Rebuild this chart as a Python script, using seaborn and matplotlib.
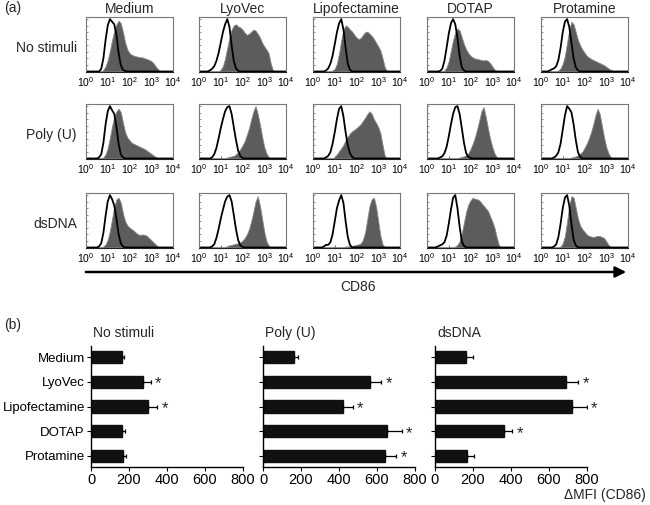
import numpy as np
import pandas as pd
import matplotlib
matplotlib.use("Agg")
import matplotlib.pyplot as plt
import seaborn as sns

sns.set_theme(style="ticks")
plt.rcParams['font.family'] = ['Liberation Sans', 'DejaVu Sans']
plt.rcParams['mathtext.fontset'] = 'custom'
plt.rcParams['mathtext.rm'] = 'Liberation Sans'
plt.rcParams['mathtext.it'] = 'Liberation Sans'
plt.rcParams['mathtext.default'] = 'regular'

# ---------------- data ----------------
carriers = ["Medium", "LyoVec", "Lipofectamine", "DOTAP", "Protamine"]
stimuli = ["No stimuli", "Poly (U)", "dsDNA"]
hist_ticks = [1, 10, 100, 1000, 10000]
bar_ticks = [0, 200, 400, 600, 800]

# CD86 histogram heights (% of max) at log10 intensity 0.0, 0.1, ..., 4.0
cd86_log = np.round(np.arange(0, 4.01, 0.1), 1)

ns_medium_stain = [0,0,0,0,0,0,0,0,3,10, 22,40,60,78,90,97,92,75,55,42, 35,32,30,29,28,27,27,25,24,22, 20,16,10,5,1,0,0,0,0,0,0]
ns_medium_iso   = [0,0,0,0,0,0,0,5,25,60, 88,100,95,90,70,35,12,3,1,0, 0,0,0,0,0,0,0,0,0,0, 0,0,0,0,0,0,0,0,0,0,0]
ns_lyovec_stain = [0,0,0,0,0,0,0,0,0,0, 3,10,25,45,65,80,88,90,86,84, 80,74,70,72,76,80,78,72,65,55, 48,42,35,15,2,0,0,0,0,0,0]
ns_lyovec_iso   = [0,0,0,0,0,2,5,10,20,35, 55,75,90,100,85,50,20,6,1,0, 0,0,0,0,0,0,0,0,0,0, 0,0,0,0,0,0,0,0,0,0,0]
ns_lipo_stain   = [0,0,0,0,0,0,0,0,0,2, 5,15,35,60,80,88,85,80,76,70, 65,62,64,70,75,76,72,68,62,55, 48,40,25,8,1,0,0,0,0,0,0]
ns_lipo_iso     = [0,0,0,0,0,0,2,6,15,30, 52,75,92,100,80,45,15,3,0,0, 0,0,0,0,0,0,0,0,0,0, 0,0,0,0,0,0,0,0,0,0,0]
ns_dotap_stain  = [0,0,0,0,0,0,0,0,2,8, 20,40,60,75,82,78,65,52,42,35, 30,27,25,24,23,22,21,22,20,16, 10,4,1,0,0,0,0,0,0,0,0]
ns_dotap_iso    = [0,0,0,0,0,0,1,5,20,45, 72,92,100,90,65,30,8,2,0,0, 0,0,0,0,0,0,0,0,0,0, 0,0,0,0,0,0,0,0,0,0,0]
ns_prot_stain   = [0,0,0,0,0,0,0,0,2,6, 15,30,55,80,95,90,75,60,50,42, 36,30,27,24,22,20,18,16,14,12, 9,6,3,1,0,0,0,0,0,0,0]
ns_prot_iso     = [0,0,0,0,2,4,6,10,22,45, 75,95,100,85,55,25,8,2,0,0, 0,0,0,0,0,0,0,0,0,0, 0,0,0,0,0,0,0,0,0,0,0]

pu_medium_stain = [0,0,0,0,0,0,0,0,2,8, 20,40,62,80,90,95,88,68,50,40, 35,30,28,26,24,22,20,18,15,12, 9,6,3,1,0,0,0,0,0,0,0]
pu_medium_iso   = [0,0,0,0,0,0,2,8,30,65, 90,100,92,85,60,28,8,2,0,0, 0,0,0,0,0,0,0,0,0,0, 0,0,0,0,0,0,0,0,0,0,0]
pu_lyovec_stain = [0,0,0,0,0,0,0,0,0,0, 0,0,0,2,3,4,5,8,12,18, 25,33,45,58,75,90,100,85,65,42, 22,10,3,0,0,0,0,0,0,0,0]
pu_lyovec_iso   = [0,0,0,0,0,0,2,8,20,38, 58,75,90,98,100,85,60,35,15,5, 1,0,0,0,0,0,0,0,0,0, 0,0,0,0,0,0,0,0,0,0,0]
pu_lipo_stain   = [0,0,0,0,0,0,0,0,0,0, 3,8,14,20,26,35,42,48,52,55, 58,62,66,72,78,85,90,85,75,68, 60,48,25,5,0,0,0,0,0,0,0]
pu_lipo_iso     = [0,0,0,0,0,0,2,5,12,28, 50,75,95,100,80,50,25,10,3,0, 0,0,0,0,0,0,0,0,0,0, 0,0,0,0,0,0,0,0,0,0,0]
pu_dotap_stain  = [0,0,0,0,0,0,0,0,0,0, 0,0,0,0,0,2,3,4,6,10, 18,28,40,55,72,90,98,80,58,38, 22,10,3,0,0,0,0,0,0,0,0]
pu_dotap_iso    = [0,0,0,0,0,0,2,4,10,22, 42,65,85,98,100,85,58,30,10,3, 1,0,0,0,0,0,0,0,0,0, 0,0,0,0,0,0,0,0,0,0,0]
pu_prot_stain   = [0,0,0,0,0,0,0,0,0,0, 0,0,0,0,2,3,4,6,9,13, 20,28,38,50,65,82,95,85,62,40, 22,10,3,0,0,0,0,0,0,0,0]
pu_prot_iso     = [0,0,0,0,0,0,2,5,12,28, 55,82,100,95,88,65,35,12,3,0, 0,0,0,0,0,0,0,0,0,0, 0,0,0,0,0,0,0,0,0,0,0]

ds_medium_stain = [0,0,0,0,0,0,0,0,2,6, 15,32,55,78,92,95,85,65,50,42, 38,35,32,28,25,24,25,24,22,18, 14,10,6,2,0,0,0,0,0,0,0]
ds_medium_iso   = [0,0,0,0,0,0,2,8,28,60, 88,100,92,80,55,25,8,2,0,0, 0,0,0,0,0,0,0,0,0,0, 0,0,0,0,0,0,0,0,0,0,0]
ds_lyovec_stain = [0,0,0,0,0,0,0,0,0,0, 0,0,0,3,4,5,6,7,8,10, 13,18,25,35,50,68,88,98,80,55, 30,12,4,0,0,0,0,0,0,0,0]
ds_lyovec_iso   = [0,0,0,0,0,0,2,6,18,35, 55,72,88,97,100,88,62,35,14,4, 1,0,0,0,0,0,0,0,0,0, 0,0,0,0,0,0,0,0,0,0,0]
ds_lipo_stain   = [0,0,0,0,0,0,0,0,0,0, 0,0,0,0,0,2,2,3,3,4, 5,6,8,15,30,55,80,92,95,78, 50,22,6,1,0,0,0,0,0,0,0]
ds_lipo_iso     = [0,0,0,0,0,2,5,5,10,25, 50,75,90,100,85,50,20,5,0,0, 0,0,0,0,0,0,0,0,0,0, 0,0,0,0,0,0,0,0,0,0,0]
ds_dotap_stain  = [0,0,0,0,0,0,0,0,0,0, 0,0,0,2,5,12,28,48,68,82, 90,95,93,92,90,85,80,75,70,60, 50,38,20,5,0,0,0,0,0,0,0]
ds_dotap_iso    = [0,0,0,0,0,2,4,6,10,22, 45,72,95,100,75,40,12,3,0,0, 0,0,0,0,0,0,0,0,0,0, 0,0,0,0,0,0,0,0,0,0,0]
ds_prot_stain   = [0,0,0,0,0,0,0,0,0,2, 8,22,50,80,98,95,75,55,42,35, 30,25,22,21,20,21,22,22,20,18, 12,5,1,0,0,0,0,0,0,0,0]
ds_prot_iso     = [0,0,0,0,0,0,2,6,20,45, 75,95,100,80,45,15,4,0,0,0, 0,0,0,0,0,0,0,0,0,0, 0,0,0,0,0,0,0,0,0,0,0]

# Delta MFI (CD86) bar values, upper error, significance
mfi_none  = [162, 275, 298, 165, 167]
err_none  = [13, 40, 50, 12, 17]
sig_none  = [False, True, True, False, False]
mfi_polyu = [163, 563, 419, 651, 642]
err_polyu = [22, 58, 53, 78, 58]
sig_polyu = [False, True, True, True, True]
mfi_dsdna = [165, 688, 723, 365, 170]
err_dsdna = [33, 65, 75, 42, 37]
sig_dsdna = [False, True, True, True, False]

# ---------------- layout helpers ----------------
W, H = 650, 505
fig = plt.figure(figsize=(6.5, 5.05), dpi=100)

def px_axes(left, top, width, height):
    return fig.add_axes([left / W, 1 - (top + height) / H, width / W, height / H])

def ftext(x, y, s, **kw):
    fig.text(x / W, 1 - y / H, s, **kw)

# ---------------- (a) histograms ----------------
hist_rows = [
    [(ns_medium_stain, ns_medium_iso), (ns_lyovec_stain, ns_lyovec_iso), (ns_lipo_stain, ns_lipo_iso),
     (ns_dotap_stain, ns_dotap_iso), (ns_prot_stain, ns_prot_iso)],
    [(pu_medium_stain, pu_medium_iso), (pu_lyovec_stain, pu_lyovec_iso), (pu_lipo_stain, pu_lipo_iso),
     (pu_dotap_stain, pu_dotap_iso), (pu_prot_stain, pu_prot_iso)],
    [(ds_medium_stain, ds_medium_iso), (ds_lyovec_stain, ds_lyovec_iso), (ds_lipo_stain, ds_lipo_iso),
     (ds_dotap_stain, ds_dotap_iso), (ds_prot_stain, ds_prot_iso)],
]
col_left = [86, 199, 313, 427, 541]
row_top = [17, 104, 193]
pw, ph = 87, 55
intensity = 10 ** cd86_log

for r, row in enumerate(hist_rows):
    for c, (stain, iso) in enumerate(row):
        ax = px_axes(col_left[c], row_top[r], pw, ph)
        df = pd.DataFrame({"x": intensity, "stain": stain, "iso": iso})
        ax.fill_between(df["x"], df["stain"], color="#5c5c5c", lw=0.6, edgecolor="#8a8a8a")
        sns.lineplot(data=df, x="x", y="iso", ax=ax, color="black", lw=1.3)
        ax.set_xscale("log")
        ax.set_xlim(1, 10000)
        ax.set_ylim(-1, 104)
        ax.set_xlabel("")
        ax.set_ylabel("")
        ax.set_xticks(hist_ticks)
        ax.set_xticklabels([r"$10^{%d}$" % k for k in range(5)], fontsize=7.5)
        ax.set_yticks(np.arange(0, 101, 12.5))
        ax.set_yticklabels([])
        ax.tick_params(axis="x", which="major", direction="in", length=2.5, width=0.6, pad=2, colors="#444444", labelcolor="black")
        ax.tick_params(axis="x", which="minor", direction="in", length=1.2, width=0.4, colors="#444444")
        ax.tick_params(axis="y", direction="in", length=1.5, width=0.5, colors="#666666")
        for sp in ax.spines.values():
            sp.set_visible(True)
            sp.set_color("#777777")
            sp.set_linewidth(0.8)
        ax.spines["bottom"].set_color("#222222")
        if r == 0:
            ax.set_title(carriers[c], fontsize=10, pad=3)

for r, lab in enumerate(stimuli):
    ftext(77, row_top[r] + ph / 2 + 4, lab, ha="right", va="center", fontsize=10)

ftext(4, 8, "(a)", ha="left", va="center", fontsize=10)
ax_arrow = fig.add_axes([0, 0, 1, 1], facecolor="none")
ax_arrow.set_axis_off()
ax_arrow.set_xlim(0, W)
ax_arrow.set_ylim(H, 0)
ax_arrow.annotate("", xy=(629, 272), xytext=(83, 272),
                  arrowprops=dict(arrowstyle="-|>", lw=1.8, color="black", mutation_scale=16))
ftext(358, 287, "CD86", ha="center", va="center", fontsize=10)

# ---------------- (b) bar charts ----------------
ftext(4, 325, "(b)", ha="left", va="center", fontsize=10)
bar_sets = [(mfi_none, err_none, sig_none), (mfi_polyu, err_polyu, sig_polyu), (mfi_dsdna, err_dsdna, sig_dsdna)]
bar_left = [91, 263, 435]
for k, (vals, errs, sigs) in enumerate(bar_sets):
    ax = px_axes(bar_left[k], 346, 152, 121)
    df = pd.DataFrame({"carrier": carriers, "mfi": vals})
    sns.barplot(data=df, x="mfi", y="carrier", order=carriers, color="#111111",
                width=0.5, orient="h", errorbar=None, ax=ax, saturation=1, edgecolor="#111111")
    ax.errorbar(vals, np.arange(5), xerr=[np.zeros(5), errs], fmt="none",
                ecolor="black", elinewidth=0.9, capsize=1.6, capthick=0.9)
    for i, (v, e, s) in enumerate(zip(vals, errs, sigs)):
        if s:
            ax.text(v + e + 40, i + 0.08, "*", ha="center", va="center", fontsize=12)
    ax.set_xlim(0, 800)
    ax.set_ylim(4.45, -0.45)
    ax.set_xticks(bar_ticks)
    ax.set_xticklabels([str(t) for t in bar_ticks], fontsize=10.5)
    ax.set_xlabel("")
    ax.set_ylabel("")
    ax.set_yticks(range(5))
    if k == 0:
        ax.set_yticklabels(carriers, fontsize=9.5)
    else:
        ax.set_yticklabels([])
    ax.tick_params(axis="both", direction="out", length=3, width=0.8, pad=1.5, colors="black")
    sns.despine(ax=ax)
    for sp in ("left", "bottom"):
        ax.spines[sp].set_linewidth(1.0)
        ax.spines[sp].set_color("black")
    ftext(bar_left[k] + 2, 333, stimuli[k], ha="left", va="center", fontsize=10)

ftext(646, 495, "\u0394MFI (CD86)", ha="right", va="center", fontsize=10)

fig.savefig("out.png", dpi=100)
